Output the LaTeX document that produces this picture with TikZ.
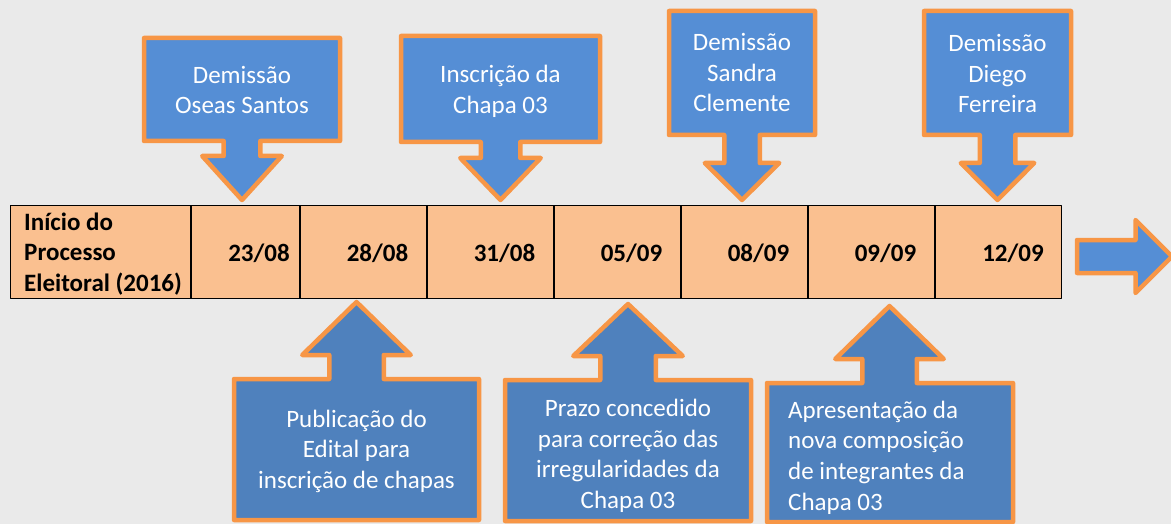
\documentclass[tikz,border=0pt]{standalone}
\usepackage{fontspec}
\setmainfont{Carlito}
\definecolor{bgcol}{HTML}{EAEAEA}
\definecolor{topblue}{HTML}{558ED5}
\definecolor{botblue}{HTML}{4F81BD}
\definecolor{corange}{HTML}{F79646}
\definecolor{barfill}{HTML}{FAC090}
\newcommand\mylines[2]{\begin{tabular}[t]{@{}#1@{}}#2\end{tabular}}
% #1 centre x, #2 left, #3 right, #4 far edge y, #5 near edge y,
% #6 stem half width, #7 head base y, #8 head half width, #9 tip y, #10 style
\newcommand\callout[9]{(#2,#4) -- (#3,#4) -- (#3,#5) -- ({#1+#6},#5) -- ({#1+#6},#7) -- ({#1+#8},#7) -- (#1,#9) -- ({#1-#8},#7) -- ({#1-#6},#7) -- ({#1-#6},#5) -- (#2,#5) -- cycle}
\begin{document}
\begin{tikzpicture}[x=1pt,y=-1pt,line join=round,
  topcall/.style={draw=corange,line width=4.5pt,fill=topblue},
  botcall/.style={draw=corange,line width=4.5pt,fill=botblue},
  cell/.style={draw=black,line width=1.5pt,fill=barfill,rectangle,inner sep=0pt,minimum height=92.5pt},
  ctext/.style={text=white,inner sep=0pt,font=\fontsize{25}{30.6}\selectfont},
  btext/.style={text=black,inner sep=0pt,font=\fontsize{25}{30.6}\selectfont\bfseries}]
\useasboundingbox (0,0) rectangle (1171,524);
\clip (0,0) rectangle (1171,524);
\fill[bgcol] (0,0) rectangle (1171,524);

% timeline bar
\node[cell,minimum width=180.75pt] (c0) at (100.625,252) {};
\node[cell,minimum width=109pt] (c1) at (245.5,252) {};
\node[cell,minimum width=127pt] (c2) at (363.5,252) {};
\node[cell,minimum width=127pt] (c3) at (490.5,252) {};
\node[cell,minimum width=127pt] (c4) at (617.5,252) {};
\node[cell,minimum width=127pt] (c5) at (744.5,252) {};
\node[cell,minimum width=127pt] (c6) at (871.5,252) {};
\node[cell,minimum width=126.25pt] (c7) at (998.125,252) {};

\node[btext,anchor=base west] (t0) at (24,230) {\mylines{l}{Início do\\Processo\\Eleitoral (2016)}};
\node[btext,anchor=base] (d1) at (259,261) {23/08};
\node[btext,anchor=base] (d2) at (377.5,261) {28/08};
\node[btext,anchor=base] (d3) at (504.5,261) {31/08};
\node[btext,anchor=base] (d4) at (631.5,261) {05/09};
\node[btext,anchor=base] (d5) at (758.5,261) {08/09};
\node[btext,anchor=base] (d6) at (885.5,261) {09/09};
\node[btext,anchor=base] (d7) at (1013,261) {12/09};

% right arrow
\draw[topcall] (1077,240) -- (1135.5,240) -- (1135.5,220) -- (1172,256.5) -- (1135.5,293) -- (1135.5,273) -- (1077,273) -- cycle;

% top callouts
\draw[topcall] \callout{242}{144}{340}{38}{141}{18.3}{156}{39.8}{200};
\draw[topcall] \callout{500.5}{401}{600}{36}{142}{19.75}{158}{40.25}{200};
\draw[topcall] \callout{742}{669}{815}{11}{135}{17.75}{163}{37.25}{200};
\draw[topcall] \callout{997.5}{924}{1071}{11}{135}{17.75}{163}{36.75}{200};

\node[ctext,anchor=base] (u1) at (242,83.3) {\mylines{c}{Demissão\\Oseas Santos}};
\node[ctext,anchor=base] (u2) at (500.5,82.5) {\mylines{c}{Inscrição da\\Chapa 03}};
\node[ctext,anchor=base] (u3) at (742,50.5) {\mylines{c}{Demissão\\Sandra\\Clemente}};
\node[ctext,anchor=base] (u4) at (997.5,51.5) {\mylines{c}{Demissão\\Diego\\Ferreira}};

% bottom callouts
\draw[botcall] \callout{356.5}{234}{479}{520}{379}{27.25}{355}{54.25}{302};
\draw[botcall] \callout{628}{505}{751}{521}{380}{27.75}{356}{54.75}{304};
\draw[botcall] \callout{889.5}{767}{1013}{522}{383}{27.25}{359}{54.25}{306};

\node[ctext,anchor=base] (l1) at (356.5,427.3) {\mylines{c}{Publicação do\\Edital para\\inscrição de chapas}};
\node[ctext,anchor=base] (l2) at (628,416.7) {\mylines{c}{Prazo concedido\\para correção das\\irregularidades da\\Chapa 03}};
\node[ctext,anchor=base west] (l3) at (788,418.3) {\mylines{l}{Apresentação da\\nova composição\\de integrantes da\\Chapa 03}};
\end{tikzpicture}
\end{document}
